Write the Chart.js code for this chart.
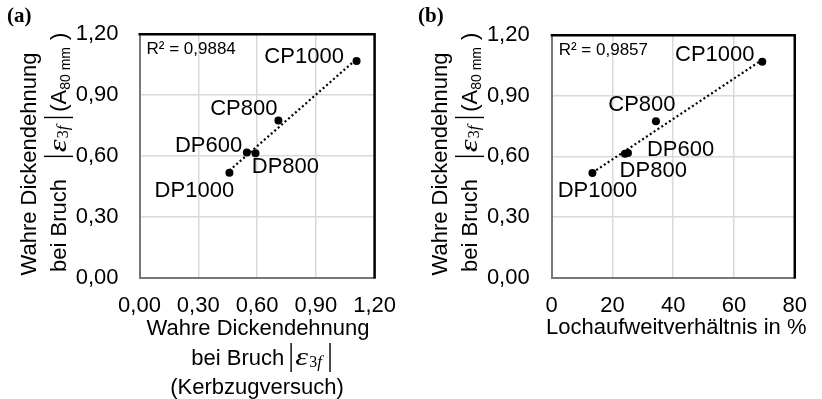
<!DOCTYPE html>
<html>
<head>
<meta charset="utf-8">
<script src="https://cdn.jsdelivr.net/npm/chart.js@4/dist/chart.umd.min.js"></script>
<style>
  html, body { margin: 0; padding: 0; background: #fff; }
  #wrap { position: relative; width: 822px; height: 399px; overflow: hidden; }
  .pane { position: absolute; top: 0; width: 411px; height: 399px; }
</style>
</head>
<body>
<div id="wrap">
  <div class="pane" style="left:0"><canvas id="chartA" width="411" height="399"></canvas></div>
  <div class="pane" style="left:411px"><canvas id="chartB" width="411" height="399"></canvas></div>
</div>
<script>
// Steel grades and measured values
const steels = ['CP1000', 'CP800', 'DP600', 'DP800', 'DP1000'];
// true thickness strain at fracture, notched tensile test
const notchStrain = [1.108, 0.709, 0.548, 0.592, 0.459];
// hole expansion ratio in %
const holeExpansion = [69.3, 34.3, 25.1, 24.1, 13.4];
// true thickness strain at fracture, tensile test A80 mm
const tensileStrain = [1.068, 0.774, 0.616, 0.613, 0.517];

const strainTicks = [0, 0.3, 0.6, 0.9, 1.2];
const holeTicks = [0, 20, 40, 60, 80];
const r2Labels = ['R² = 0,9884', 'R² = 0,9857'];

const SANS = '"Liberation Sans", Arial, sans-serif';
const SERIF = '"Liberation Serif", "Times New Roman", serif';
const TXT = '#000';

// least-squares line through the points, spanning the data range
function trend(xs, ys) {
  const n = xs.length;
  const mx = xs.reduce((a, b) => a + b, 0) / n;
  const my = ys.reduce((a, b) => a + b, 0) / n;
  let sxy = 0, sxx = 0;
  for (let i = 0; i < n; i++) { sxy += (xs[i] - mx) * (ys[i] - my); sxx += (xs[i] - mx) ** 2; }
  const b = sxy / sxx, a = my - b * mx;
  const lo = Math.min(...xs), hi = Math.max(...xs);
  return [{ x: lo, y: a + b * lo }, { x: hi, y: a + b * hi }];
}

// rich text: runs of text, gaps and absolute-value bars
function segWidth(ctx, s) {
  if (s.bar) return 1.4;
  if (s.w != null) return s.w;
  ctx.font = s.font;
  return ctx.measureText(s.text).width;
}
function richWidth(ctx, segs) { return segs.reduce((a, s) => a + segWidth(ctx, s), 0); }
function drawRich(ctx, segs, x0, base) {
  let x = x0;
  ctx.textAlign = 'left';
  ctx.textBaseline = 'alphabetic';
  for (const s of segs) {
    const w = segWidth(ctx, s);
    if (s.bar) ctx.fillRect(x, base - 22, 1.4, 29);
    else if (s.text) {
      ctx.font = s.font;
      if (s.sx) {
        ctx.save();
        ctx.translate(x, base + (s.dy || 0));
        ctx.scale(s.sx, 1);
        ctx.fillText(s.text, 0, 0);
        ctx.restore();
      } else ctx.fillText(s.text, x, base + (s.dy || 0));
    }
    x += w;
  }
}
const absEps = [
  { bar: true }, { w: 3.5 },
  { text: 'ε', font: 'italic 25px ' + SERIF, sx: 1.3, w: 14 },
  { text: '3', font: '16px ' + SERIF, dy: 2, w: 8 },
  { text: 'f', font: 'italic 17px ' + SERIF, dy: 2, w: 8.5 },
  { w: 3.5 }, { bar: true }
];
const yTitle2 = [
  { text: 'bei Bruch', font: '22px ' + SANS }, { w: 22 }, ...absEps, { w: 5 },
  { text: '(A', font: '22px ' + SANS },
  { text: '80 mm', font: '14px ' + SANS, dy: 4 }, { w: 7 },
  { text: ')', font: '22px ' + SANS }
];
const xTitle2A = [{ text: 'bei Bruch ', font: '22px ' + SANS }, ...absEps];

const decorations = {
  id: 'decorations',
  afterDraw(chart, args, o) {
    const ctx = chart.ctx, ca = chart.chartArea;
    ctx.save();
    // closing frame on top and right
    ctx.strokeStyle = '#000';
    ctx.lineWidth = 2.5;
    ctx.beginPath();
    ctx.moveTo(ca.left - 1, ca.top);
    ctx.lineTo(ca.right, ca.top);
    ctx.lineTo(ca.right, ca.bottom + 1);
    ctx.stroke();

    ctx.fillStyle = TXT;
    // panel tag
    ctx.font = 'bold 21px ' + SERIF;
    ctx.textAlign = 'left';
    ctx.textBaseline = 'middle';
    ctx.fillText(o.tag, 7, 17);

    // coefficient of determination
    ctx.font = '17px ' + SANS;
    ctx.fillText(o.r2, ca.left + 7, ca.top + 15);

    // point labels
    ctx.font = '22px ' + SANS;
    const pts = chart.getDatasetMeta(0).data;
    pts.forEach((p, i) => {
      const s = o.labels[i];
      ctx.textAlign = s[0];
      ctx.textBaseline = 'middle';
      ctx.fillText(steels[i], p.x + s[1], p.y + s[2]);
    });

    // y axis title, two rotated lines
    ctx.save();
    ctx.translate(36, 164);
    ctx.rotate(-Math.PI / 2);
    ctx.font = '22px ' + SANS;
    ctx.textAlign = 'center';
    ctx.textBaseline = 'alphabetic';
    ctx.fillText('Wahre Dickendehnung', 0, 0);
    ctx.restore();
    ctx.save();
    ctx.translate(66, 272);
    ctx.rotate(-Math.PI / 2);
    drawRich(ctx, yTitle2, 0, 0);
    ctx.restore();

    // x axis title
    const cx = (ca.left + ca.right) / 2;
    o.xTitle.forEach((line, i) => {
      const base = o.xBase[i];
      const x = cx + o.xShift[i];
      if (typeof line === 'string') {
        ctx.font = '22px ' + SANS;
        ctx.textAlign = 'center';
        ctx.textBaseline = 'alphabetic';
        ctx.fillText(line, x, base);
      } else {
        const w = richWidth(ctx, line);
        drawRich(ctx, line, x - w / 2, base);
      }
    });
    ctx.restore();
  }
};

function makeChart(id, xs, xMin, xMax, xTicks, xFmt, deco, right) {
  return new Chart(document.getElementById(id), {
    data: {
      datasets: [
        {
          type: 'scatter',
          data: xs.map((x, i) => ({ x, y: tensileStrain[i] })),
          backgroundColor: '#000',
          borderWidth: 0,
          pointRadius: 4,
          order: 0
        },
        {
          type: 'line',
          data: trend(xs, tensileStrain),
          borderColor: '#000',
          borderWidth: 2.2,
          borderDash: [2, 2.6],
          pointRadius: 0,
          fill: false,
          order: 1
        }
      ]
    },
    options: {
      responsive: false,
      animation: false,
      devicePixelRatio: 1,
      layout: { padding: { left: 0, top: 31.5, right: right, bottom: 81.5 } },
      plugins: { legend: { display: false }, tooltip: { enabled: false }, decorations: deco },
      scales: {
        x: {
          type: 'linear', min: xMin, max: xMax,
          afterBuildTicks: s => { s.ticks = xTicks.map(v => ({ value: v })); },
          afterFit: s => { s.height = 40; },
          ticks: { callback: xFmt, font: { family: SANS, size: 22 }, color: TXT, padding: 15, maxRotation: 0 },
          grid: { color: '#d9d9d9', lineWidth: 1.5, drawTicks: false },
          border: { color: '#777', width: 2 }
        },
        y: {
          type: 'linear', min: 0, max: 1.2,
          afterBuildTicks: s => { s.ticks = strainTicks.map(v => ({ value: v })); },
          afterFit: s => { s.width = deco.yWidth; },
          ticks: { callback: v => v.toFixed(2).replace('.', ','), font: { family: SANS, size: 22 }, color: TXT, padding: deco.yPad },
          grid: { color: '#d9d9d9', lineWidth: 1.5, drawTicks: false },
          border: { color: '#777', width: 2 }
        }
      }
    },
    plugins: [decorations]
  });
}

makeChart('chartA', notchStrain, 0, 1.2, strainTicks, v => v.toFixed(2).replace('.', ','), {
  tag: '(a)', r2: r2Labels[0], yWidth: 139.5, yPad: 21,
  labels: [['right', -12.7, -4], ['right', -1, -12], ['right', -4.7, -7], ['left', -3.7, 13.5], ['right', 4.7, 18]],
  xTitle: ['Wahre Dickendehnung', xTitle2A, '(Kerbzugversuch)'],
  xBase: [335, 365, 394], xShift: [1, 4, 0]
}, 25);

makeChart('chartB', holeExpansion, 0, 80, holeTicks, v => String(v), {
  tag: '(b)', r2: r2Labels[1], yWidth: 140.7, yPad: 22,
  labels: [['right', -7.7, -7.3], ['center', -14, -16], ['left', 19, -2.7], ['left', -5.3, 17], ['center', 5, 17.7]],
  xTitle: ['Lochaufweitverhältnis in %'],
  xBase: [334], xShift: [3]
}, 15.3);
</script>
</body>
</html>
